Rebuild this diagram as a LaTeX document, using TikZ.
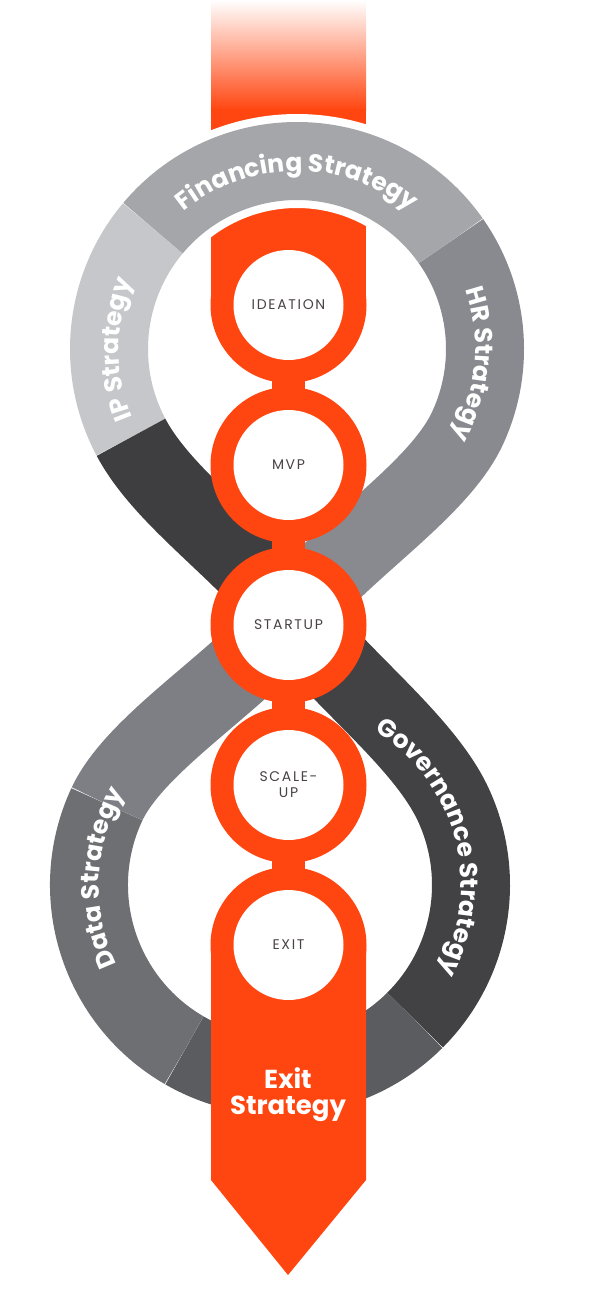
\documentclass[tikz,border=0pt]{standalone}
\usepackage{fontspec}
\usetikzlibrary{positioning}
\usetikzlibrary{decorations.text}
\newfontfamily\stagefont[LetterSpace=12]{Poppins}
\newfontfamily\bandfont{Poppins}
\definecolor{co}{RGB}{255,70,17}
\definecolor{ct}{RGB}{74,67,68}
\definecolor{g1}{RGB}{198,199,202}
\definecolor{g2}{RGB}{165,166,170}
\definecolor{g3}{RGB}{137,138,143}
\definecolor{g4}{RGB}{126,127,132}
\definecolor{g5}{RGB}{110,111,115}
\definecolor{g6}{RGB}{91,92,96}
\definecolor{g7}{RGB}{66,66,69}
\definecolor{g8}{RGB}{62,62,65}
\tikzstyle{edge}=[draw=white, line width=94pt]
\tikzstyle{band}=[line width=78pt]
\tikzstyle{ring}=[circle, fill=co, minimum size=156pt, inner sep=0pt]
\tikzstyle{hole}=[circle, fill=white, minimum size=110pt, inner sep=0pt, text=ct, font=\stagefont\fontsize{14}{16}\selectfont, align=center]
\tikzstyle{neck}=[fill=co]
\tikzstyle{bandtext}=[decorate, decoration={text along path, text align=center, text color=white}]
\newcommand{\bandlabel}[1]{|\bandfont\bfseries\fontsize{25}{25}\selectfont|#1}

\begin{document}
\begin{tikzpicture}[x=1pt, y=1pt]
  \useasboundingbox (0,0) rectangle (601,-1290);
  \coordinate (top) at (297,-349);
  \coordinate (bot) at (280,-885);
  \coordinate (cross) at (292,-615);

  % bar behind the loops
  \shade[top color=white, bottom color=co] (211,0) rectangle (366,-110);
  \fill[co] (211,-109) rectangle (366,-305);

  % loops
  \draw[edge] ([shift={(208:188)}]top) arc[start angle=208, end angle=140, radius=188];
  \draw[band, g1] ([shift={(208:188)}]top) arc[start angle=208, end angle=140, radius=188];
  \draw[edge] ([shift={(140:188)}]top) arc[start angle=140, end angle=35, radius=188];
  \draw[band, g2] ([shift={(140:188)}]top) arc[start angle=140, end angle=35, radius=188];
  \draw[edge] ([shift={(35:188)}]top) arc[start angle=35, end angle=-25, radius=188]
    .. controls (437.8,-491.9) and (340,-551) .. (cross);
  \draw[band, g3] ([shift={(35:188)}]top) arc[start angle=35, end angle=-25, radius=188]
    .. controls (437.8,-491.9) and (340,-551) .. (cross);
  \draw[edge] (cross) .. controls (244,-679) and (136.5,-740.9) .. ([shift={(155:191)}]bot);
  \draw[band, g4] (cross) .. controls (244,-679) and (136.5,-740.9) .. ([shift={(155:191)}]bot);
  \draw[edge] ([shift={(155:191)}]bot) arc[start angle=155, end angle=240, radius=191];
  \draw[band, g5] ([shift={(155:191)}]bot) arc[start angle=155, end angle=240, radius=191];
  \draw[edge] ([shift={(240:191)}]bot) arc[start angle=240, end angle=315, radius=191];
  \draw[band, g6] ([shift={(240:191)}]bot) arc[start angle=240, end angle=315, radius=191];
  \draw[edge] ([shift={(315:191)}]bot) arc[start angle=315, end angle=385, radius=191]
    .. controls (423.5,-740.9) and (340,-679) .. (cross);
  \draw[band, g7] ([shift={(315:191)}]bot) arc[start angle=315, end angle=385, radius=191]
    .. controls (423.5,-740.9) and (340,-679) .. (cross);
  \draw[edge] (cross) .. controls (244,-551) and (163.8,-499.1) .. ([shift={(208:188)}]top);
  \draw[band, g8] (cross) .. controls (244,-551) and (163.8,-499.1) .. ([shift={(208:188)}]top);

  % loop labels
  \path[bandtext, decoration={text={\bandlabel{Financing Strategy}}}]
    ([shift={(150:178)}]top) arc[start angle=150, end angle=30, radius=178];
  \path[bandtext, decoration={text={\bandlabel{HR Strategy}}}]
    ([shift={(35:178)}]top) arc[start angle=35, end angle=-45, radius=178];
  \path[bandtext, decoration={text={\bandlabel{IP Strategy}}}]
    ([shift={(220:178)}]top) arc[start angle=220, end angle=140, radius=178];
  \path[bandtext, decoration={text={\bandlabel{Data Strategy}}}]
    ([shift={(225:181)}]bot) arc[start angle=225, end angle=130, radius=181];
  \path[bandtext, decoration={text={\bandlabel{Governance Strategy}}}]
    ([shift={(70:181)}]bot) arc[start angle=70, end angle=-40, radius=181];

  % stage chain
  \foreach \y in {385,545,705,865}{
    \fill[neck] (272,-\y+30) rectangle (305,-\y-30);
  }
  \fill[co] (211,-945) -- (211,-1180) -- (288,-1275) -- (366,-1180) -- (366,-945) -- cycle;
  \foreach \s/\t [count=\i] in {ideation/IDEATION,mvp/MVP,startup/STARTUP,scaleup/{SCALE-\\UP},exit/EXIT}{
    \node[ring] (ring-\s) at (288.5,-145-160*\i) {};
    \node[hole] (\s) at (ring-\s) {\t};
  }
  \node[text=white, font=\bandfont\bfseries\fontsize{26}{26}\selectfont, align=center] (exitstrategy)
    at (288,-1095) {Exit\\Strategy};
\end{tikzpicture}
\end{document}
